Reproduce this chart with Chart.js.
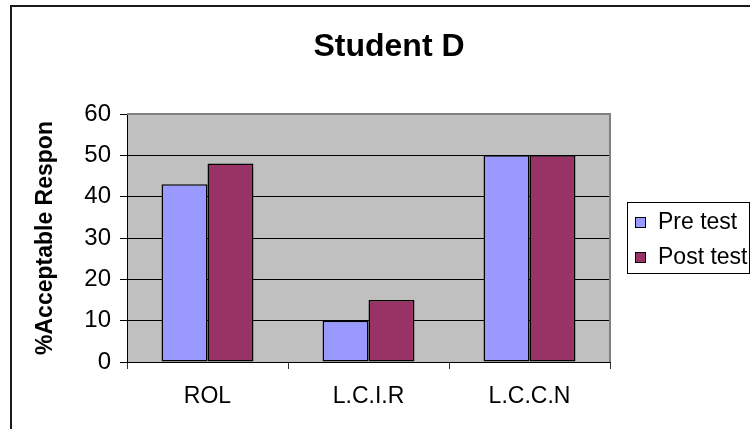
<!DOCTYPE html>
<html>
<head>
<meta charset="utf-8">
<script src="https://cdn.jsdelivr.net/npm/chart.js@4/dist/chart.umd.min.js"></script>
<style>
  html, body { margin: 0; padding: 0; background: #fff; }
  #wrap { width: 750px; height: 429px; }
</style>
</head>
<body>
<div id="wrap"><canvas id="c" width="750" height="429"></canvas></div>
<script>
// Chart content
const chartTitle = 'Student D';
const yAxisTitle = '%Acceptable Respon';
const categories = ['ROL', 'L.C.I.R', 'L.C.C.N'];
const seriesNames = ['Pre test', 'Post test'];
const preTest = [43, 10, 50];
const postTest = [48, 15, 50];
const yTicks = [0, 10, 20, 30, 40, 50, 60];

const FONT = "'Liberation Sans', Arial, Helvetica, sans-serif";
const seriesColors = ['#9999FF', '#993366'];

// Gray plot background, frame, title and boxed legend
const decorations = {
  id: 'decorations',
  beforeDraw(chart) {
    const { ctx, chartArea: a } = chart;
    ctx.save();
    ctx.fillStyle = '#ffffff';
    ctx.fillRect(0, 0, chart.width, chart.height);
    ctx.fillStyle = '#C0C0C0';
    ctx.fillRect(a.left, a.top, a.right - a.left, a.bottom - a.top);
    ctx.restore();
  },
  afterDraw(chart) {
    const { ctx, chartArea: a } = chart;
    ctx.save();
    // plot area frame (top and right)
    ctx.strokeStyle = '#808080';
    ctx.lineWidth = 2;
    ctx.beginPath();
    ctx.moveTo(a.left, a.top);
    ctx.lineTo(a.right, a.top);
    ctx.lineTo(a.right, a.bottom);
    ctx.stroke();

    // outer chart frame
    ctx.strokeStyle = '#1a1a1a';
    ctx.lineWidth = 2;
    ctx.strokeRect(11, 6, 820, 520);

    // title
    ctx.fillStyle = '#000';
    ctx.font = 'bold 32px ' + FONT;
    ctx.textAlign = 'center';
    ctx.textBaseline = 'alphabetic';
    ctx.fillText(chartTitle, 389, 56);

    // legend
    ctx.strokeStyle = '#000';
    ctx.lineWidth = 1;
    ctx.strokeRect(627.5, 202.5, 122, 71);
    const rows = [229, 264];
    ctx.font = '23px ' + FONT;
    ctx.textAlign = 'left';
    chart.data.datasets.forEach((ds, i) => {
      const y = rows[i];
      ctx.fillStyle = ds.backgroundColor;
      ctx.fillRect(635.5, y - 11.5, 10, 10);
      ctx.strokeStyle = '#000';
      ctx.strokeRect(635.5, y - 11.5, 10, 10);
      ctx.fillStyle = '#000';
      ctx.fillText(ds.label, 658, y);
    });
    ctx.restore();
  }
};

new Chart(document.getElementById('c'), {
  type: 'bar',
  data: {
    labels: categories,
    datasets: [
      { label: seriesNames[0], data: preTest, backgroundColor: seriesColors[0] },
      { label: seriesNames[1], data: postTest, backgroundColor: seriesColors[1] }
    ]
  },
  options: {
    responsive: false,
    devicePixelRatio: 1,
    animation: false,
    layout: { padding: { left: 11, top: 114, right: 140, bottom: 0 } },
    datasets: {
      bar: {
        categoryPercentage: 0.571,
        barPercentage: 1,
        borderColor: '#000',
        borderWidth: 1.5,
        borderSkipped: false
      }
    },
    plugins: {
      legend: { display: false },
      title: { display: false },
      tooltip: { enabled: false }
    },
    scales: {
      x: {
        offset: true,
        grid: {
          offset: true,
          drawOnChartArea: false,
          drawTicks: true,
          tickLength: 7,
          color: '#333'
        },
        border: { color: '#000', width: 1 },
        ticks: {
          color: '#000',
          font: { family: FONT, size: 23 },
          padding: 14,
          maxRotation: 0
        },
        afterFit(scale) { scale.height = 67; }
      },
      y: {
        min: yTicks[0],
        max: yTicks[yTicks.length - 1],
        ticks: {
          stepSize: yTicks[1] - yTicks[0],
          color: '#000',
          font: { family: FONT, size: 24 },
          padding: 9
        },
        grid: {
          color: '#000',
          lineWidth: 1,
          drawTicks: true,
          tickLength: 7
        },
        border: { color: '#000', width: 1 },
        title: {
          display: true,
          text: yAxisTitle,
          color: '#000',
          font: { family: FONT, size: 23, weight: 'bold' },
          padding: { top: 21, bottom: 0 }
        },
        afterFit(scale) { scale.width = 116; }
      }
    }
  },
  plugins: [decorations]
});
</script>
</body>
</html>
